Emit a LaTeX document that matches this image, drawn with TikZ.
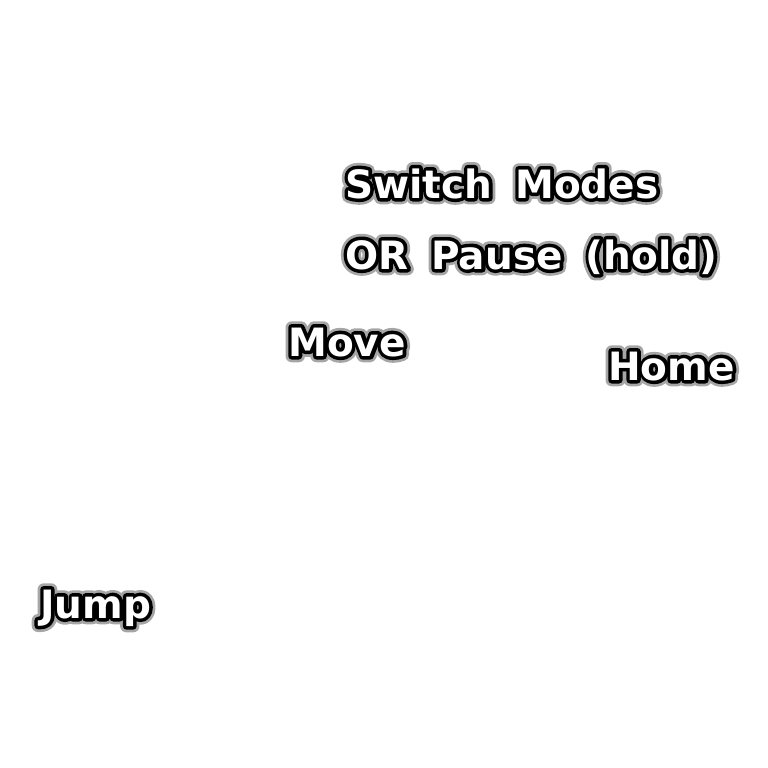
\documentclass[tikz,border=0pt]{standalone}
\usepackage{fontspec}
\newfontfamily\lblfont{DejaVu Sans Bold}
\newfontfamily\lblglowA{DejaVu Sans Bold}[FakeBold=32]
\newfontfamily\lblglowB{DejaVu Sans Bold}[FakeBold=18]
\newcommand\glowtxt[1]{\spaceskip=23pt\relax\rlap{\lblglowA\color{black!35}#1}\rlap{\lblglowB\color{black}#1}{\lblfont\color{white}#1}}
\begin{document}
\begin{tikzpicture}[x=1pt,y=-1pt,line join=round,
  lbl/.style={inner sep=0pt,anchor=base west,font=\fontsize{39}{44}\selectfont}]
\useasboundingbox (0,0) rectangle (768,768);
\node[lbl] (sw) at (345,198) {\glowtxt{Switch Modes}};
\node[lbl] (op) at (345,269) {\glowtxt{OR Pause (hold)}};
\node[lbl] (mv) at (288,356) {\glowtxt{Move}};
\node[lbl] (hm) at (608,380) {\glowtxt{Home}};
\node[lbl] (jp) at (40,618) {\glowtxt{Jump}};
\end{tikzpicture}
\end{document}
